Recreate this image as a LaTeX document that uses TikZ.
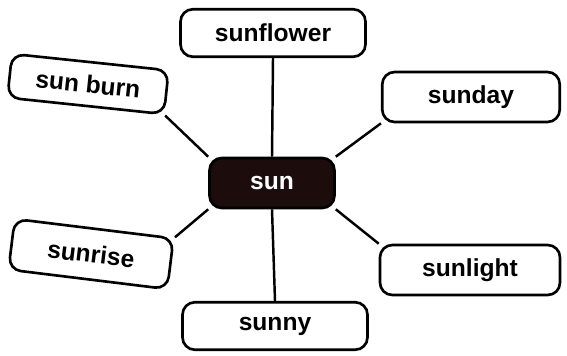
\documentclass[tikz,border=0pt]{standalone}
\usepackage{fontspec}
\setmainfont{Liberation Sans}
\definecolor{sundark}{RGB}{28,12,12}
\tikzset{
  word/.style={draw, line width=1.5pt, rounded corners=7pt,
    font=\fontsize{14}{16}\selectfont\bfseries,
    minimum width=3.6cm, minimum height=0.95cm},
  core/.style={word, fill=sundark, text=white,
    minimum width=2.5cm, minimum height=1cm},
  link/.style={line width=1.4pt}
}
\begin{document}
\begin{tikzpicture}[x=0.02cm,y=-0.02cm]
      \useasboundingbox (0,0) rectangle (567,355);
      \coordinate (C) at (272,183);

      \node [core] (sun) at (C) {sun};
      \node [word, minimum width=3.7cm] (flower) at (273,33) {sunflower};
      \node [word, minimum width=3.15cm, minimum height=0.88cm, rotate=-6] (burn) at (88,84) {sun burn};
      \node [word, minimum width=3.55cm, minimum height=1cm] (day) at (471,97) {sunday};
      \node [word, minimum width=3.2cm, minimum height=1.02cm, rotate=-7] (rise) at (91,254) {sunrise};
      \node [word, minimum width=3.6cm, minimum height=1cm] (light) at (470,270) {sunlight};
      \node [word, minimum width=3.7cm] (sunny) at (275,326) {sunny};

      % spokes
      \draw [link] (sun.north) -- (flower.south);
      \draw [link] (sun.north west) -- (burn.south east);
      \draw [link] (sun.north east) -- (day.south west);
      \draw [link] (sun.south west) -- (rise.north east);
      \draw [link] (sun.south east) -- (light.north west);
      \draw [link] (sun.south) -- (sunny.north);
  \end{tikzpicture}
\end{document}
